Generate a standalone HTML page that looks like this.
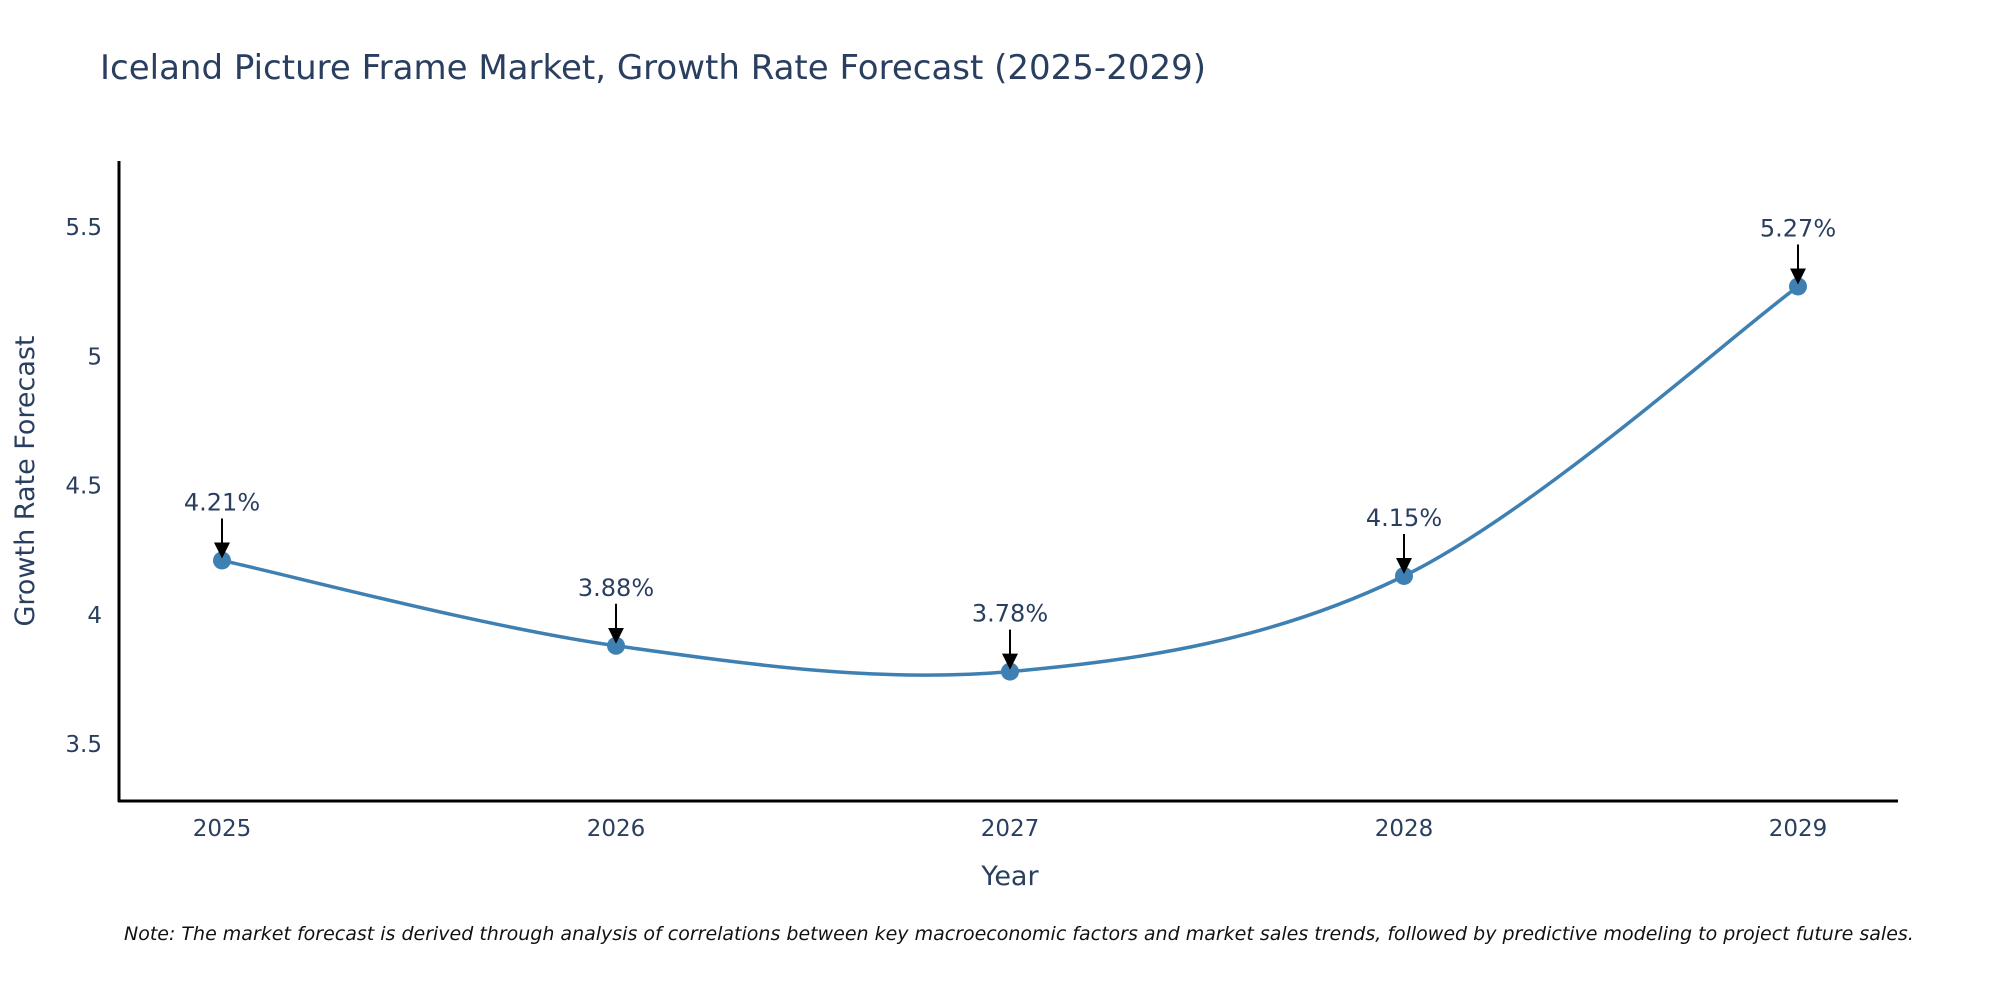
<!DOCTYPE html>
<html><head><meta charset="utf-8"><style>
body{margin:0;background:#fff;}
svg{display:block;font-family:"DejaVu Sans","Liberation Sans",sans-serif;}
</style></head><body>
<svg width="2000" height="1000" viewBox="0 0 2000 1000">
<text x="100" y="79" font-size="34" fill="#2a3f5f">Iceland Picture Frame Market, Growth Rate Forecast (2025-2029)</text>
<g id="yticks"></g><g id="xticks"></g>
<line x1="119" y1="161" x2="119" y2="802" stroke="#000" stroke-width="3"/>
<line x1="118" y1="801" x2="1898" y2="801" stroke="#000" stroke-width="3"/>
<text transform="translate(34,481) rotate(-90)" text-anchor="middle" font-size="27" fill="#2a3f5f">Growth Rate Forecast</text>
<text x="1010" y="885" text-anchor="middle" font-size="27" fill="#2a3f5f">Year</text>
<path id="line" fill="none" stroke="#3f80b3" stroke-width="3.5"/>
<g id="marks"></g>
<text x="124" y="940" font-size="19" font-style="italic" fill="#111">Note: The market forecast is derived through analysis of correlations between key macroeconomic factors and market sales trends, followed by predictive modeling to project future sales.</text>
<defs><marker id="ah" markerUnits="userSpaceOnUse" markerWidth="16" markerHeight="16" refX="14" refY="8" orient="auto"><path d="M0,0 L16,8 L0,16 Z" fill="#000"/></marker></defs>
</svg>
<script>
const years=[2025,2026,2027,2028,2029];
const values=[4.21,3.88,3.78,4.15,5.27];
const labels=["4.21%","3.88%","3.78%","4.15%","5.27%"];
const yTicks=[3.5,4,4.5,5,5.5];
const yTickLabels=["3.5","4","4.5","5","5.5"];
const NS="http://www.w3.org/2000/svg";
const xs=y=>222+(y-2025)*394;
const ys=v=>744-(v-3.5)*258.5;
const yt=document.getElementById('yticks');
yTicks.forEach((t,i)=>{const e=document.createElementNS(NS,'text');


e.setAttribute('x',102);e.setAttribute('y',ys(t)+8);e.setAttribute('text-anchor','end');e.setAttribute('font-size','23');e.setAttribute('fill','#2a3f5f');e.textContent=yTickLabels[i];yt.appendChild(e);});
const xt=document.getElementById('xticks');
years.forEach(y=>{const e=document.createElementNS(NS,'text');


e.setAttribute('x',xs(y));e.setAttribute('y',836);e.setAttribute('text-anchor','middle');e.setAttribute('font-size','23');e.setAttribute('fill','#2a3f5f');e.textContent=y;xt.appendChild(e);});
const P=years.map((y,i)=>[xs(y),ys(values[i])]);
let d='M'+P[0][0]+','+P[0][1];
for(let i=0;i<P.length-1;i++){const p0=P[Math.max(i-1,0)],p1=P[i],p2=P[i+1],p3=P[Math.min(i+2,P.length-1)];
const c1=[p1[0]+(p2[0]-p0[0])/6,p1[1]+(p2[1]-p0[1])/6],c2=[p2[0]-(p3[0]-p1[0])/6,p2[1]-(p3[1]-p1[1])/6];
d+=` C${c1[0]},${c1[1]} ${c2[0]},${c2[1]} ${p2[0]},${p2[1]}`;}
document.getElementById('line').setAttribute('d',d);
const mk=document.getElementById('marks');
P.forEach((p,i)=>{const c=document.createElementNS(NS,'circle');


c.setAttribute('cx',p[0]);c.setAttribute('cy',p[1]);c.setAttribute('r',9);c.setAttribute('fill','#3f80b3');mk.appendChild(c);
const l=document.createElementNS(NS,'line');


l.setAttribute('x1',p[0]);l.setAttribute('y1',p[1]-42);l.setAttribute('x2',p[0]);l.setAttribute('y2',p[1]-4);l.setAttribute('stroke','#000');l.setAttribute('stroke-width','2');l.setAttribute('marker-end','url(#ah)');mk.appendChild(l);
const t=document.createElementNS(NS,'text');


t.setAttribute('x',p[0]);t.setAttribute('y',p[1]-50);t.setAttribute('text-anchor','middle');t.setAttribute('font-size','24');t.setAttribute('fill','#2a3f5f');t.textContent=labels[i];mk.appendChild(t);});
</script>
</body></html>
